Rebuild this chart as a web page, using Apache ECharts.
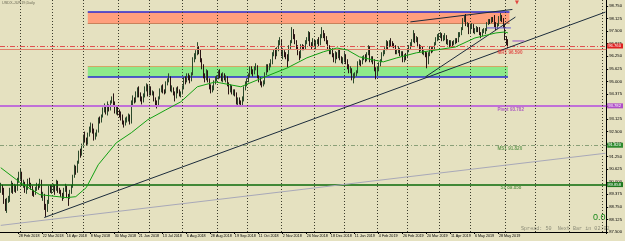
<!DOCTYPE html>
<html><head><meta charset="utf-8">
<script src="https://cdn.jsdelivr.net/npm/echarts@6/dist/echarts.min.js"></script>
<style>html,body{margin:0;padding:0;background:#e5e1c0}#c{width:625px;height:241px}</style>
</head><body><div id="c"></div>
<script>
// ---------- data ----------
const startDate = '2018-02-12';
const holidays = ['2018-03-30','2018-12-25','2019-01-01','2019-04-19'];
const totalSlots = 404;
const tickLabels = ['28 Feb 2018','22 Mar 2018','16 Apr 2018','8 May 2018','30 May 2018','21 Jun 2018','13 Jul 2018','6 Aug 2018','28 Aug 2018','19 Sep 2018','11 Oct 2018','2 Nov 2018','26 Nov 2018','18 Dec 2018','11 Jan 2019','4 Feb 2019','26 Feb 2019','20 Mar 2019','11 Apr 2019','6 May 2019','28 May 2019'];

// candles: [open, close, low, high]
const feb2018 = [[89.6,89.75,89.45,89.95],[89.75,89.45,89.35,89.85],[89.45,89.05,88.9,89.7],[89.05,88.65,88.55,89.15],[88.65,89.05,88.45,89.2],
[89.05,89.1,88.95,89.3],[89.1,89.6,89.0,89.7],[89.6,89.85,89.45,90.05],[89.85,89.55,89.4,89.95],[89.55,89.8,89.5,89.9],
[89.8,89.6,89.45,89.85],[89.6,90.05,89.55,90.2],[90.05,90.35,89.95,90.5]];
const mar2018 = [[90.35,90.45,90.1,90.65],[90.45,89.9,89.8,90.5],
[89.9,89.95,89.7,90.1],[89.95,89.55,89.45,90.0],[89.55,89.7,89.4,89.8],[89.7,90.0,89.6,90.15],[90.0,89.85,89.75,90.2],
[89.85,89.7,89.6,89.95],[89.7,89.45,89.3,89.8],[89.45,89.4,89.25,89.6],[89.4,89.65,89.35,89.75],[89.65,89.85,89.55,89.95],
[89.85,89.75,89.6,89.9],[89.75,90.0,89.7,90.15],[90.0,89.3,89.2,90.1],[89.3,89.35,89.05,89.5],[89.35,88.85,88.6,89.4],
[88.85,88.6,88.25,88.9],[88.6,88.95,88.5,89.1],[88.95,89.7,88.9,89.8],[89.7,89.6,89.45,89.85]];
const apr2018 = [[89.6,89.65,89.4,89.85],[89.65,89.75,89.5,89.9],[89.75,89.6,89.35,89.85],[89.6,89.95,89.55,90.1],[89.95,89.55,89.45,90.05],
[89.55,89.5,89.4,89.7],[89.5,89.35,89.25,89.6],[89.35,89.2,89.05,89.45],[89.2,89.6,89.15,89.7],[89.6,89.75,89.5,89.9],
[89.75,89.35,89.2,89.8],[89.35,89.25,88.8,89.4],[89.25,89.5,89.15,89.6],[89.5,89.75,89.4,89.85],[89.75,90.25,89.7,90.35],
[90.25,90.7,90.2,90.85],[90.7,90.55,90.35,90.8],[90.55,90.95,90.45,91.05],[90.95,91.45,90.9,91.55],[91.45,91.35,91.2,91.65],
[91.35,91.8,91.3,91.9]];
const may2018 = [[91.8,92.25,91.7,92.35],[92.25,92.1,91.95,92.5],[92.1,91.95,91.8,92.2],[91.95,92.35,91.85,92.45],
[92.35,92.6,92.25,92.75],[92.6,92.75,92.45,92.95],[92.75,92.55,92.4,92.9],[92.55,92.2,92.05,92.65],[92.2,92.35,92.1,92.45],
[92.35,92.5,92.25,92.6],[92.5,93.1,92.45,93.2],[93.1,93.05,92.9,93.25],[93.05,93.25,92.95,93.35],[93.25,93.6,93.2,93.7],
[93.6,93.65,93.45,93.9],[93.65,93.45,93.35,93.75],[93.45,93.75,93.3,94.0],[93.75,93.65,93.5,93.85],[93.65,93.95,93.55,94.05],
[93.95,94.15,93.9,94.25],[94.15,93.9,93.75,94.4],[93.9,93.5,93.4,94.0],[93.5,93.6,93.35,93.75]];
const jun2018 = [[93.6,93.5,93.3,93.75],
[93.5,93.3,93.2,93.6],[93.3,93.25,93.05,93.5],[93.25,92.95,92.85,93.35],[92.95,92.85,92.7,93.05],[92.85,93.05,92.8,93.2],
[93.05,93.1,92.95,93.25],[93.1,93.25,93.0,93.4],[93.25,92.95,92.85,93.35],[92.95,93.95,92.9,94.05],[93.95,94.1,93.8,94.3],
[94.1,94.05,93.9,94.2],[94.05,94.3,93.95,94.5],[94.3,94.55,94.2,94.7],[94.55,94.35,94.2,94.75],[94.35,94.15,94.0,94.45],
[94.15,94.0,93.85,94.25],[94.0,94.3,93.95,94.4],[94.3,94.65,94.2,94.75],[94.65,94.75,94.5,94.9],[94.75,94.35,94.25,94.85]];
const jul2018 = [[94.35,94.65,94.3,94.8],[94.65,94.4,94.3,94.75],[94.4,94.45,94.3,94.55],[94.45,94.1,94.0,94.5],[94.1,94.0,93.8,94.2],
[94.0,93.85,93.65,94.05],[93.85,94.15,93.8,94.25],[94.15,94.55,94.1,94.65],[94.55,94.7,94.45,94.8],[94.7,94.55,94.4,94.85],
[94.55,94.45,94.35,94.6],[94.45,94.9,94.4,95.0],[94.9,95.05,94.8,95.15],[95.05,95.2,94.95,95.4],[95.2,94.6,94.5,95.25],
[94.6,94.65,94.45,94.8],[94.65,94.45,94.3,94.7],[94.45,94.2,94.0,94.5],[94.2,94.6,94.15,94.7],[94.6,94.55,94.4,94.75],
[94.55,94.35,94.25,94.6],[94.35,94.4,94.2,94.5]];
const aug2018 = [[94.4,94.7,94.35,94.8],[94.7,95.1,94.6,95.2],[95.1,95.0,94.85,95.25],
[95.0,95.3,94.95,95.4],[95.3,95.2,95.05,95.4],[95.2,95.05,94.9,95.3],[95.05,95.35,95.0,95.45],[95.35,96.05,95.3,96.2],
[96.05,96.25,95.95,96.4],[96.25,96.4,96.1,96.55],[96.4,96.6,96.3,96.95],[96.6,96.5,96.35,96.75],[96.5,96.05,95.95,96.6],
[96.05,95.75,95.6,96.15],[95.75,95.3,95.15,95.85],[95.3,95.1,94.95,95.4],[95.1,95.45,95.05,95.6],[95.45,95.05,94.95,95.55],
[95.05,94.75,94.6,95.15],[94.75,94.6,94.4,94.85],[94.6,94.65,94.45,94.8],[94.65,94.95,94.55,95.05],[94.95,95.1,94.85,95.25]];
const sep2018 = [[95.1,95.2,95.0,95.3],[95.2,95.4,95.1,95.55],[95.4,95.3,95.15,95.6],[95.3,95.1,95.0,95.4],[95.1,95.35,94.95,95.45],
[95.35,95.15,95.05,95.4],[95.15,95.2,94.95,95.3],[95.2,94.85,94.75,95.25],[94.85,94.5,94.35,94.95],[94.5,94.75,94.45,94.85],
[94.75,94.45,94.35,94.8],[94.45,94.5,94.3,94.6],[94.5,94.4,94.25,94.6],[94.4,93.95,93.85,94.45],[93.95,94.15,93.75,94.2],
[94.15,93.95,93.85,94.2],[93.95,93.9,93.8,94.05],[93.9,94.05,93.8,94.25],[94.05,94.65,94.0,94.75],[94.65,94.85,94.55,95.0]];
const oct2018 = [[94.85,95.05,94.75,95.15],[95.05,95.3,94.95,95.4],[95.3,95.65,95.2,95.75],[95.65,95.5,95.35,95.75],[95.5,95.4,95.25,95.6],
[95.4,95.65,95.35,95.75],[95.65,95.75,95.55,95.9],[95.75,95.25,95.15,95.8],[95.25,95.05,94.95,95.3],[95.05,94.95,94.8,95.2],
[94.95,94.85,94.7,95.0],[94.85,94.9,94.75,95.05],[94.9,95.35,94.85,95.45],[95.35,95.75,95.3,95.85],[95.75,95.6,95.45,95.85],
[95.6,95.8,95.55,95.9],[95.8,95.95,95.7,96.1],[95.95,96.35,95.85,96.45],[96.35,96.5,96.25,96.6],[96.5,96.3,96.1,96.65],
[96.3,96.55,96.25,96.7],[96.55,96.9,96.5,97.05],[96.9,97.05,96.8,97.2]];
const nov2018 = [[97.05,96.35,96.25,97.1],[96.35,96.5,96.1,96.65],
[96.5,96.35,96.2,96.55],[96.35,96.25,96.1,96.45],[96.25,96.05,95.7,96.35],[96.05,96.7,96.0,96.8],[96.7,96.95,96.6,97.05],
[96.95,97.55,96.9,97.7],[97.55,97.25,97.1,97.6],[97.25,96.95,96.85,97.35],[96.95,96.75,96.6,97.05],[96.75,96.45,96.3,96.8],
[96.45,96.2,96.05,96.5],[96.2,96.75,96.15,96.85],[96.75,96.7,96.55,96.85],[96.7,96.65,96.55,96.8],[96.65,96.95,96.6,97.05],
[96.95,97.1,96.85,97.2],[97.1,97.35,97.0,97.5],[97.35,96.85,96.75,97.45],[96.85,96.75,96.6,96.95],[96.75,97.05,96.7,97.15]];
const dec2018 = [[97.05,96.85,96.7,97.1],[96.85,96.95,96.55,97.05],[96.95,97.0,96.85,97.1],[97.0,96.9,96.75,97.2],[96.9,97.25,96.8,97.35],
[97.25,97.45,97.15,97.7],[97.45,97.3,97.15,97.55],[97.3,97.15,97.0,97.4],[97.15,96.95,96.85,97.25],[96.95,96.75,96.6,97.05],
[96.75,96.5,96.35,96.8],[96.5,96.55,96.35,96.65],[96.55,96.35,96.2,96.65],[96.35,96.05,95.95,96.4],[96.05,96.4,95.9,96.5],
[96.4,96.25,96.1,96.45],[96.25,96.5,96.15,96.6],[96.5,96.15,96.05,96.6],[96.15,96.0,95.9,96.25],[96.0,96.1,95.85,96.2]];
const jan2019 = [[96.1,96.25,95.95,96.45],[96.25,95.95,95.85,96.35],[95.95,95.75,95.6,96.1],
[95.75,95.55,95.4,95.85],[95.55,95.6,95.4,95.75],[95.6,95.15,95.05,95.65],[95.15,95.3,94.9,95.4],[95.3,95.35,95.15,95.45],
[95.35,95.45,95.25,95.55],[95.45,95.9,95.4,96.0],[95.9,95.95,95.8,96.1],[95.95,95.9,95.75,96.05],[95.9,96.15,95.85,96.25],
[96.15,96.2,96.05,96.3],[96.2,96.1,95.95,96.35],[96.1,96.35,96.0,96.45],[96.35,96.7,96.3,96.8],[96.7,96.05,95.95,96.75],
[96.05,96.15,95.95,96.25],[96.15,96.0,95.85,96.25],[96.0,95.6,95.5,96.1],[95.6,95.4,95.1,95.7]];
const feb2019 = [[95.4,95.55,95.3,95.75],
[95.55,95.85,95.5,95.95],[95.85,96.0,95.75,96.1],[96.0,96.35,95.95,96.45],[96.35,96.45,96.25,96.55],[96.45,96.6,96.35,96.7],
[96.6,96.95,96.55,97.05],[96.95,96.75,96.6,97.0],[96.75,96.95,96.7,97.05],[96.95,96.9,96.75,97.15],[96.9,96.85,96.7,97.0],
[96.85,96.75,96.65,96.9],[96.75,96.45,96.35,96.8],[96.45,96.5,96.35,96.6],[96.5,96.6,96.4,96.75],[96.6,96.35,96.25,96.65],
[96.35,96.4,96.25,96.5],[96.4,96.05,95.95,96.5],[96.05,96.25,95.95,96.35],[96.25,96.2,96.05,96.4]];
const mar2019 = [[96.2,96.55,96.15,96.65],
[96.55,96.7,96.45,96.8],[96.7,96.85,96.6,96.95],[96.85,97.0,96.75,97.1],[97.0,97.3,96.95,97.55],[97.3,97.05,96.9,97.4],
[97.05,97.15,96.95,97.25],[97.15,96.8,96.7,97.2],[96.8,96.55,96.45,96.85],[96.55,96.7,96.5,96.8],[96.7,96.45,96.35,96.75],
[96.45,96.45,96.3,96.55],[96.45,96.35,96.2,96.5],[96.35,95.95,95.65,96.45],[95.95,96.35,95.85,96.45],[96.35,96.6,96.25,96.75],
[96.6,96.55,96.4,96.7],[96.55,96.65,96.45,96.75],[96.65,96.85,96.55,96.95],[96.85,97.1,96.8,97.2],[97.1,97.2,97.0,97.35]];
const apr2019 = [[97.2,97.25,97.05,97.4],[97.25,97.35,97.15,97.45],[97.35,97.1,97.0,97.4],[97.1,97.15,97.0,97.3],[97.15,97.25,97.05,97.4],
[97.25,96.95,96.85,97.3],[96.95,96.95,96.8,97.1],[96.95,96.85,96.7,97.05],[96.85,96.95,96.75,97.05],[96.95,96.9,96.75,97.0],
[96.9,96.95,96.8,97.05],[96.95,97.05,96.85,97.15],[97.05,97.0,96.9,97.15],[97.0,97.35,96.95,97.45],
[97.35,97.35,97.2,97.45],[97.35,97.6,97.3,97.7],[97.6,98.05,97.55,98.15],[98.05,98.15,97.95,98.3],[98.15,97.85,97.75,98.35],
[97.85,97.85,97.7,97.95],[97.85,97.45,97.35,97.9]];
const may2019 = [[97.45,97.75,97.4,97.85],[97.75,97.75,97.6,97.9],[97.75,97.5,97.4,97.85],
[97.5,97.55,97.35,97.65],[97.55,97.65,97.45,97.75],[97.65,97.6,97.45,97.7],[97.6,97.4,97.3,97.7],[97.4,97.3,97.15,97.45],
[97.3,97.5,97.25,97.6],[97.5,97.5,97.4,97.65],[97.5,97.55,97.35,97.65],[97.55,97.85,97.5,97.95],[97.85,98.0,97.8,98.1],
[98.0,97.95,97.85,98.1],[97.95,98.1,97.9,98.2],[98.1,98.05,97.95,98.2],[98.05,97.85,97.7,98.3],[97.85,97.65,97.55,97.95],
[97.65,97.8,97.6,97.9],[97.8,98.15,97.75,98.25],[98.15,98.2,98.0,98.4],[98.2,98.1,97.95,98.3],[98.1,97.8,97.65,98.15]];
const jun2019 = [[97.8,97.2,97.05,97.85],[97.2,96.9,96.8,97.25],[96.9,96.76,96.65,97.1]];

// moving average: [bar index, value]
const movingAverage = [[0,90.70],[13,89.96],[26,89.36],[44,89.21],[50,89.26],[57,89.71],[65,90.85],[77,91.94],[87,92.44],[98,93.09],[110,93.58],[120,93.98],[131,94.73],[143,94.97],[160,94.73],[176,95.22],[191,95.67],[204,96.17],[215,96.47],[224,96.66],[231,96.56],[239,96.22],[248,96.07],[255,95.97],[264,96.17],[277,96.42],[290,96.56],[303,96.71],[316,97.16],[330,97.41],[336,97.46],[338,97.41]];

// trend lines: [bar index, value]
const trendLong = [[29,88.22],[403,98.45]];
const trendGrey = [[0,87.83],[403,91.42]];
const trendSteep = [[283,95.22],[343,98.2]];
const trendWedgeTop = [[273,97.96],[341,98.58]];
const shortLineA = [[324,97.66],[340,97.66]];
const shortLineB = [[341,97.01],[349,97.01]];

// zones: [fromIndex, toIndex, top, bottom]
const resistanceZone = [58,339,98.45,97.88];
const supportZone = [58,338,95.74,95.22];

// horizontal levels
const pivotLevel = 93.782, ms1Level = 91.820, s1Level = 89.858, mr1Level = 96.590, lastPrice = 96.76;

// ---------- build ----------
const monNames = ['Jan','Feb','Mar','Apr','May','Jun','Jul','Aug','Sep','Oct','Nov','Dec'];
const cats = [], dObjs = [];
let d = new Date(startDate + 'T00:00:00Z');
while (cats.length < totalSlots) {
  const wd = d.getUTCDay();
  const iso = d.toISOString().slice(0,10);
  if (wd !== 0 && wd !== 6 && holidays.indexOf(iso) < 0) {
    cats.push(d.getUTCDate() + ' ' + monNames[d.getUTCMonth()] + ' ' + d.getUTCFullYear());
    dObjs.push(new Date(d));
  }
  d = new Date(d.getTime() + 86400000);
}
const tickSet = new Set(tickLabels);
const monthLines = [];
for (let i = 1; i < cats.length; i++) {
  if (dObjs[i].getUTCMonth() !== dObjs[i-1].getUTCMonth()) monthLines.push(cats[i]);
}
const candles = [].concat(feb2018, mar2018, apr2018, may2018, jun2018, jul2018, aug2018, sep2018, oct2018, nov2018, dec2018, jan2019, feb2019, mar2019, apr2019, may2019, jun2019);

const tiny = 'Liberation Sans';
function seg(data, color, width, z, type) {
  return {type:'line', data:data, symbol:'none', silent:true, z:z || 3,
    lineStyle:{color:color, width:width || 1, type:type || 'solid'}, animation:false};
}
function axisBox(v, bg, txt) {
  return {yAxis:v, label:{show:true, position:'end', distance:1, formatter:txt, color:'#fff', backgroundColor:bg,
    fontSize:4.2, fontFamily:tiny, padding:[1,2,0,1]}};
}

const hLines = [
  Object.assign(axisBox(pivotLevel, '#b050c8', pivotLevel.toFixed(3)), {lineStyle:{color:'#c070d8', width:2, type:'solid'}}),
  Object.assign(axisBox(ms1Level, '#2e8b2e', ms1Level.toFixed(3)), {lineStyle:{color:'#8aa078', width:1, type:[4,2,1,2]}}),
  Object.assign(axisBox(s1Level, '#1f7a1f', s1Level.toFixed(3)), {lineStyle:{color:'#0a6a0a', width:1.5, type:'solid'}}),
  {yAxis:mr1Level, label:{show:false}, lineStyle:{color:'#e0806a', width:1, type:'solid'}},
  Object.assign(axisBox(lastPrice, '#e02020', lastPrice.toFixed(3)), {lineStyle:{color:'#e05050', width:1, type:[5,2,1,2]}})
];
const vLines = monthLines.map(c => ({xAxis:c, label:{show:false}, lineStyle:{color:'#3c3c2c', width:1, type:[1,2]}}));

function levelText(idx, v, text, color) {
  return {value:[idx, v], label:{show:true, formatter:text, color:color}};
}

const option = {
  animation:false,
  backgroundColor:'#e5e1c0',
  grid:{left:0, right:13, top:0, bottom:9},
  xAxis:{type:'category', data:cats, boundaryGap:true,
    axisLine:{lineStyle:{color:'#000', width:1}},
    axisTick:{show:true, interval:(i,v)=>tickSet.has(v), length:2, lineStyle:{color:'#000'}},
    axisLabel:{interval:(i,v)=>tickSet.has(v), fontSize:3.7, color:'#000', align:'left', margin:2, fontFamily:tiny},
    splitLine:{show:false}},
  yAxis:{type:'value', position:'right', min:87.5, max:99.05, interval:0.625,
    axisLine:{show:true, lineStyle:{color:'#000'}},
    axisTick:{show:true, length:2, lineStyle:{color:'#000'}},
    axisLabel:{formatter:v=>v.toFixed(3), fontSize:4.2, color:'#000', margin:3, showMaxLabel:false, fontFamily:tiny},
    splitLine:{show:false}},
  graphic:[
    {type:'text', left:2, top:1, style:{text:'USDX-JUN19,Daily', fontSize:3.8, fill:'#6e6c58', fontFamily:tiny}},
    {type:'text', left:593, top:213, style:{text:'0.0', fontSize:9, fill:'#1a8a1a', fontFamily:tiny}},
    {type:'text', left:521, top:226, style:{text:'Spread: 50  Next Bar in 02:02', fontSize:5.1, fill:'#8c8c78', fontFamily:'Liberation Mono'}}
  ],
  series:[
    Object.assign(seg([[resistanceZone[0], resistanceZone[2]],[resistanceZone[1], resistanceZone[2]]], '#2a2ad0', 1.5, 2), {
      markArea:{silent:true, data:[
        [{xAxis:cats[resistanceZone[0]], yAxis:resistanceZone[2], itemStyle:{color:'#ff9f7c'}}, {xAxis:cats[resistanceZone[1]], yAxis:resistanceZone[3]}],
        [{xAxis:cats[supportZone[0]], yAxis:supportZone[2], itemStyle:{color:'#8ee98a'}}, {xAxis:cats[supportZone[1]], yAxis:supportZone[3]}]
      ]}
    }),
    seg([[resistanceZone[0], resistanceZone[3]],[resistanceZone[1], resistanceZone[3]]], '#c8825a', 1, 2),
    seg([[supportZone[0], supportZone[2]],[supportZone[1], supportZone[2]]], '#d6a466', 1, 2),
    seg([[supportZone[0], supportZone[3]],[supportZone[1], supportZone[3]]], '#2a2ad0', 1.5, 2),
    {type:'candlestick', data:candles, z:4, barWidth:'72%', silent:true,
      itemStyle:{color:'#c8c8b8', color0:'#6e1e1e', borderColor:'#2c4a2c', borderColor0:'#2a1414', borderWidth:1},
      markLine:{silent:true, symbol:['none','none'], animation:false, data:hLines.concat(vLines)}},
    seg(trendGrey, '#a8a8b8', 1, 5),
    seg(trendLong, '#1c2c3c', 1, 5),
    seg(trendSteep, '#1c2c3c', 1, 5),
    seg(trendWedgeTop, '#1c2c3c', 1, 5),
    seg(movingAverage, '#12a012', 1, 6),
    seg(shortLineA, '#6a5ad8', 1, 6),
    seg(shortLineB, '#9a50c8', 1, 6),
    {type:'scatter', symbolSize:0, silent:true, z:7,
      label:{show:true, position:'right', distance:0, offset:[0,3.5], fontSize:4.6, fontFamily:tiny, fontWeight:'bold'},
      data:[
        levelText(331, pivotLevel, 'Pivot ' + pivotLevel.toFixed(3), '#a040c0'),
        levelText(331, ms1Level, 'MS1 ' + ms1Level.toFixed(3), '#4a8a3a'),
        levelText(333, s1Level, 'S1 ' + s1Level.toFixed(3), '#4a8a3a'),
        levelText(331, mr1Level, 'MR1 ' + mr1Level.toFixed(3), '#e03030')
      ]},
    {type:'scatter', silent:true, z:7, symbol:'triangle', symbolRotate:180, symbolSize:4,
      itemStyle:{color:'#e02020'}, data:[[344, 98.92]]}
  ]
};
const chart = echarts.init(document.getElementById('c'), null, {renderer:'canvas'});
chart.setOption(option);
</script>
</body></html>
